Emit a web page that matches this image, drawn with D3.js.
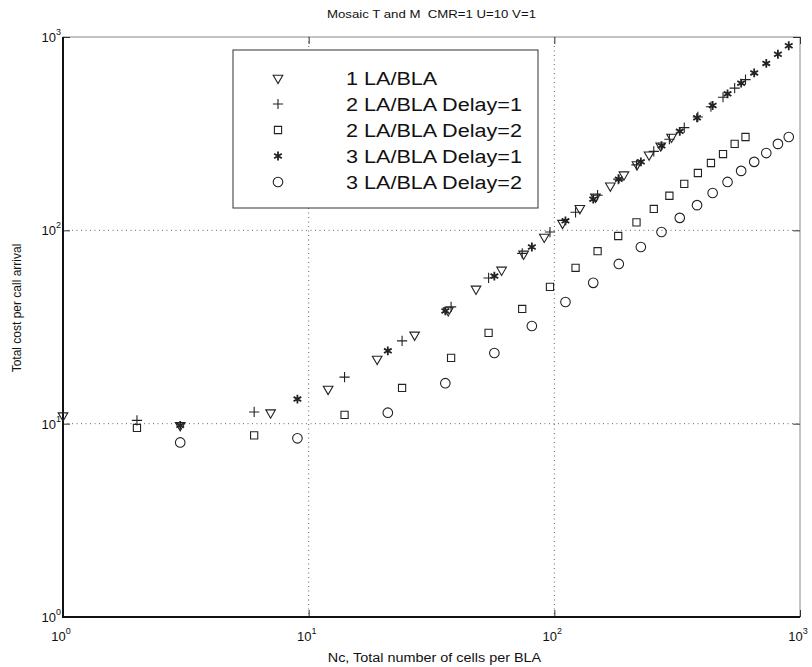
<!DOCTYPE html>
<html>
<head>
<meta charset="utf-8">
<script src="https://cdn.jsdelivr.net/npm/d3@7"></script>
<style>
  body { margin: 0; background: #fff; }
  text { font-family: "Liberation Sans", Arial, sans-serif; fill: #111; }
</style>
</head>
<body>
<script>
// cell counts per LA (hexagonal + 3n^2 sizes)
var baseCells = [1,3,7,12,19,27,37,48,61,75,91,108,127,147,169,192,217,243,271,300];

var xOne = baseCells;
var xTwo = baseCells.map(function(d){ return d*2; });
var xThree = baseCells.map(function(d){ return d*3; });

var yOneLA = [11,9.8,11.4,15.1,21.6,28.8,38.5,49.8,62.4,75.5,92.4,109,130,149,170,194,219,246,274,304];
var yTwoD1 = [10.4,11.5,17.4,26.8,40.2,56.7,76,98,124,152,184,218,256,296,340,386,436,488,544,602];
var yTwoD2 = [9.5,8.7,11.1,15.3,21.9,29.5,39.2,51,64,78,93.5,110,129,151,174,198,223,248,280,304];
var yThreeD1 = [9.8,13.4,23.8,38.3,58,82,112,145,184,226,274,325,382,442,508,577,652,730,814,901];
var yThreeD2 = [8.0,8.4,11.4,16.2,23.2,32,42.6,53.5,67,82,98,116,135,156,178,203,226,251,280,304];

var seriesNames = ["1 LA/BLA","2 LA/BLA Delay=1","2 LA/BLA Delay=2","3 LA/BLA Delay=1","3 LA/BLA Delay=2"];
var decadeTicks = [1,10,100,1000];
var decadeExp = ["0","1","2","3"];

var titleText = "Mosaic T and M\u00a0\u00a0CMR=1 U=10 V=1";
var xLabel = "Nc, Total number of cells per BLA";
var yLabel = "Total cost per call arrival";

var width = 812, height = 667;
var pLeft = 63, pRight = 800, pTop = 37, pBottom = 617;
var stretch = 1.2;

var svg = d3.select("body").append("svg")
    .attr("width", width)
    .attr("height", height);

var x = d3.scaleLog().domain([1,1000]).range([pLeft,pRight]);
var y = d3.scaleLog().domain([1,1000]).range([pBottom,pTop]);

// widen text a bit like the scanned original
function widen(sel){
  sel.each(function(){
    var w = this.getComputedTextLength();
    d3.select(this).attr("textLength", w*stretch).attr("lengthAdjust","spacingAndGlyphs");
  });
}

// grid
var grid = svg.append("g").attr("class","grid");
[10,100].forEach(function(v){
  grid.append("line")
    .attr("x1", x(v)).attr("x2", x(v)).attr("y1", pTop).attr("y2", pBottom)
    .attr("stroke","#666").attr("stroke-width",1).attr("stroke-dasharray","1,3.5");
  grid.append("line")
    .attr("x1", pLeft).attr("x2", pRight).attr("y1", y(v)).attr("y2", y(v))
    .attr("stroke","#666").attr("stroke-width",1).attr("stroke-dasharray","1,3.5");
});

// box + ticks
svg.append("rect")
  .attr("x", pLeft).attr("y", pTop).attr("width", pRight-pLeft).attr("height", pBottom-pTop)
  .attr("fill","none").attr("stroke","#888").attr("stroke-width",1);

function tickAxis(axis, tr){
  var g = svg.append("g").attr("transform", tr)
    .call(axis.tickValues(decadeTicks).tickSize(-7).tickFormat(""));
  g.select(".domain").remove();
  g.selectAll(".tick line").attr("stroke","#333");
  return g;
}
tickAxis(d3.axisBottom(x), "translate(0,"+pBottom+")");
tickAxis(d3.axisTop(x), "translate(0,"+pTop+")");
tickAxis(d3.axisLeft(y), "translate("+pLeft+",0)");
tickAxis(d3.axisRight(y), "translate("+pRight+",0)");

svg.append("line").attr("x1",pLeft).attr("x2",pLeft).attr("y1",pTop).attr("y2",pBottom+1)
  .attr("stroke","#111").attr("stroke-width",2);
svg.append("line").attr("x1",pLeft-1).attr("x2",pRight).attr("y1",pBottom).attr("y2",pBottom)
  .attr("stroke","#111").attr("stroke-width",2);

// tick labels
decadeTicks.forEach(function(v,i){
  var t = svg.append("text")
    .attr("x", x(v)-2).attr("y", pBottom+24)
    .attr("text-anchor","middle")
    .style("font-size","13px");
  t.append("tspan").text("10");
  t.append("tspan").attr("dy",-7).style("font-size","9px").text(decadeExp[i]);

  var t2 = svg.append("text")
    .attr("x", pLeft-2).attr("y", y(v)+5)
    .attr("text-anchor","end")
    .style("font-size","13px");
  t2.append("tspan").text("10");
  t2.append("tspan").attr("dy",-7).style("font-size","9px").text(decadeExp[i]);
});

// titles
svg.append("text").attr("x",(pLeft+pRight)/2).attr("y",18)
  .attr("text-anchor","middle").style("font-size","11px").text(titleText).call(widen);
svg.append("text").attr("x",(pLeft+pRight)/2+3).attr("y",662)
  .attr("text-anchor","middle").style("font-size","12px").text(xLabel).call(widen);
svg.append("text")
  .attr("transform","translate(21,"+308+") rotate(-90)")
  .attr("text-anchor","middle").style("font-size","12px").text(yLabel);

// markers
var markers = [
  {type:d3.symbolTriangle2, size:66, rot:180, sw:1.1},
  {type:d3.symbolPlus, size:36, rot:0, sw:1.1},
  {type:d3.symbolSquare2, size:66, rot:0, sw:1.1},
  {type:d3.symbolAsterisk, size:55, rot:0, sw:1.8},
  {type:d3.symbolCircle, size:72, rot:0, sw:1.1}
];
var xs = [xOne, xTwo, xTwo, xThree, xThree];
var ys = [yOneLA, yTwoD1, yTwoD2, yThreeD1, yThreeD2];

function drawMarker(g, m, px, py){
  g.append("path")
    .attr("d", d3.symbol().type(m.type).size(m.size)())
    .attr("transform","translate("+px+","+py+") rotate("+m.rot+")")
    .attr("fill","none")
    .attr("stroke","#222")
    .attr("stroke-width", m.sw);
}

var pts = svg.append("g").attr("class","points");
ys.forEach(function(vals, s){
  vals.forEach(function(v, i){
    drawMarker(pts, markers[s], x(xs[s][i]), y(v));
  });
});

// legend
var lg = svg.append("g").attr("class","legend");
lg.append("rect").attr("x",233).attr("y",50).attr("width",305).attr("height",158)
  .attr("fill","#fff").attr("stroke","#333").attr("stroke-width",1);
seriesNames.forEach(function(name, i){
  var ry = 78 + i*26;
  drawMarker(lg, markers[i], 278, ry);
  lg.append("text").attr("x",346).attr("y",ry+7)
    .style("font-size","18px").text(name).call(widen);
});
</script>
</body>
</html>
